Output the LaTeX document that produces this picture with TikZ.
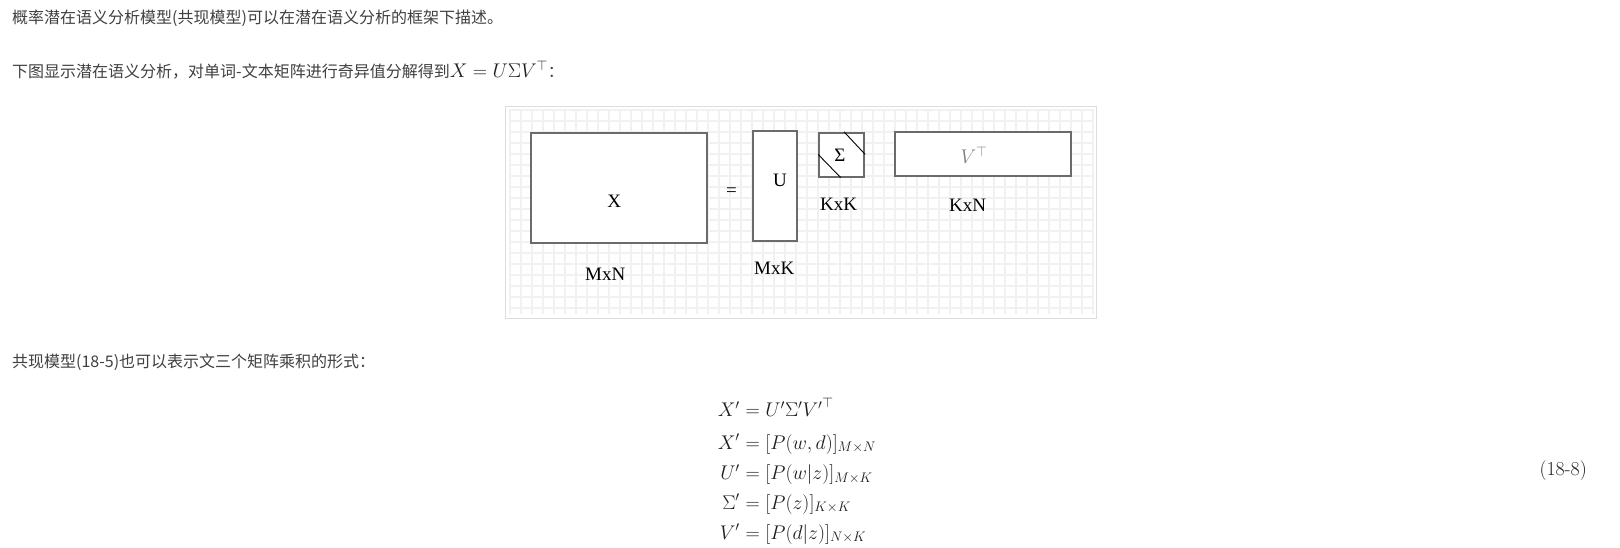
\RequirePackage{fix-cm}
\documentclass[tikz,border=0pt]{standalone}
\usepackage{amsmath}
\usepackage{fontspec}
\newfontfamily\cjk{Noto Sans CJK SC}
\newfontfamily\tms{Liberation Serif}
\definecolor{txt}{HTML}{404040}
\definecolor{mathc}{HTML}{1E1E1E}
\definecolor{boxc}{HTML}{6B6B6B}
\definecolor{gridc}{HTML}{F1F1F1}
\definecolor{framec}{HTML}{DDDDDD}
\definecolor{vgray}{HTML}{808080}
\newcommand{\mathsz}{\fontsize{19.8}{23}\selectfont}
\tikzset{
  txtline/.style={anchor=base west, inner sep=0pt, text=txt, font=\cjk\fontsize{16}{20}\selectfont},
  mbox/.style={draw=boxc, line width=1.7pt, fill=white, inner sep=0pt},
  lbl/.style={inner sep=0pt, text=black, font=\tms\fontsize{19}{22}\selectfont},
  gridline/.style={draw=gridc, line width=1.2pt},
  eql/.style={anchor=base east, inner sep=0pt, text=mathc, font=\mathsz},
  eqr/.style={anchor=base west, inner sep=0pt, text=mathc, font=\mathsz},
}
\begin{document}
\begin{tikzpicture}[x=1pt,y=-1pt]
\useasboundingbox (0,0) rectangle (1620,548);
\fill[white] (0,0) rectangle (1620,548);

% text lines
\node[txtline] (l1) at (12,23.5) {概率潜在语义分析模型(共现模型)可以在潜在语义分析的框架下描述。};
\node[txtline] (l2) at (12,77.5) {下图显示潜在语义分析，对单词-文本矩阵进行奇异值分解得到{\color{mathc}\mathsz$X=U\Sigma V^{\top}$}：};
\node[txtline] (l3) at (12,367) {共现模型(18-5)也可以表示文三个矩阵乘积的形式：};

% figure frame and grid
\fill[white] (505.3,106.7) rectangle (1096.7,318.3);
\foreach \i in {0,...,53} \draw[gridline] (510+11*\i,109) -- (510+11*\i,314);
\foreach \j in {0,...,18} \draw[gridline] (509,110+11*\j) -- (1094,110+11*\j);
\draw[framec, line width=1pt] (505.3,106.7) rectangle (1096.7,318.3);

% matrices
\node[mbox, minimum width=176.6pt, minimum height=110pt] (X) at (619,187.7) {};
\node[mbox, minimum width=44.6pt, minimum height=110.3pt] (U) at (775,185.85) {};
\node[mbox, minimum width=45.3pt, minimum height=44pt] (S) at (841.65,154.7) {};
\node[mbox, minimum width=176pt, minimum height=44pt] (V) at (983,153.7) {};

\draw[black, line width=0.9pt] ([xshift=2.4pt]S.north) -- ([yshift=0.3pt]S.east);
\draw[black, line width=0.9pt] ([yshift=0.3pt]S.west) -- ([xshift=-1pt]S.south);

% labels
\node[lbl] (xl) at (614.2,201.3) {X};
\node[lbl] (eq) at (731.5,191.7) {=};
\node[lbl] (ul) at (780,180) {U};
\node[lbl] (sl) at (840,155) {Σ};
\node[inner sep=0pt, text=vgray, font=\mathsz] (vl) at (974,155.3) {$V^{\top}$};
\node[lbl] (mxn) at (605.3,274.7) {MxN};
\node[lbl] (mxk) at (774.2,268) {MxK};
\node[lbl] (kxk) at (838.7,204.7) {KxK};
\node[lbl] (kxn) at (967.5,205) {KxN};

% equations
\node[eql] (e1l) at (740,416.7) {$X'$};
\node[eqr] (e1r) at (740,416.7) {${}=U'\Sigma'{V'}^{\top}$};
\node[eql] (e2l) at (740,449) {$X'$};
\node[eqr] (e2r) at (740,449) {${}=[P(w,d)]_{M\times N}$};
\node[eql] (e3l) at (740,479.5) {$U'$};
\node[eqr] (e3r) at (740,479.5) {${}=[P(w|z)]_{M\times K}$};
\node[eql] (e4l) at (740,509) {$\Sigma'$};
\node[eqr] (e4r) at (740,509) {${}=[P(z)]_{K\times K}$};
\node[eql] (e5l) at (740,539) {$V'$};
\node[eqr] (e5r) at (740,539) {${}=[P(d|z)]_{N\times K}$};

\node[anchor=east, inner sep=0pt, text=mathc, font=\mathsz] (num) at (1587,470.5) {(18-8)};
\end{tikzpicture}
\end{document}
